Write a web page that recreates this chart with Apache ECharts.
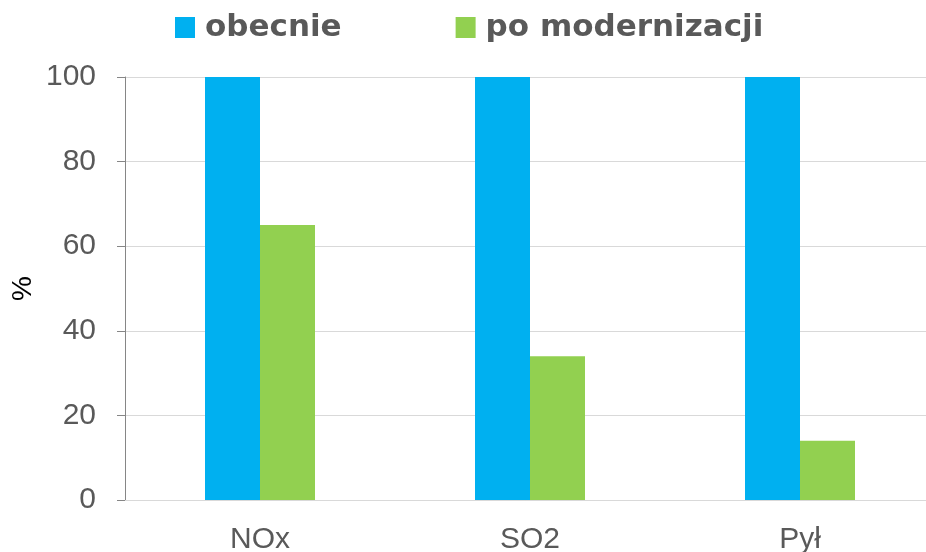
<!DOCTYPE html>
<html><head><meta charset="utf-8">
<script src="https://cdn.jsdelivr.net/npm/echarts@6/dist/echarts.min.js"></script>
<style>html,body{margin:0;padding:0;background:#fff}#c{width:926px;height:552px}</style>
</head><body><div id="c"></div>
<script>
const categories = ['NOx', 'SO2', 'Pył'];
const obecnie = [100, 100, 100];
const poModernizacji = [65, 34, 14];
const yTicks = { min: 0, max: 100, interval: 20 };

const chart = echarts.init(document.getElementById('c'), null, { renderer: 'canvas' });
const axisFont = 'Liberation Sans';
const legendFont = 'DejaVu Sans';
chart.setOption({
  animation: false,
  textStyle: { fontFamily: axisFont },
  legend: {
    left: 170, top: 7, padding: 5,
    itemWidth: 20, itemHeight: 21, itemGap: 114,
    icon: 'rect',
    textStyle: { fontFamily: legendFont, fontSize: 31, lineHeight: 31, fontWeight: 'bold', color: '#595959', padding: [0, 0, 0, 5] },
    data: ['obecnie', 'po modernizacji']
  },
  grid: { left: 125, top: 77, width: 810, height: 423, outerBoundsMode: 'none', containLabel: false },
  xAxis: {
    type: 'category', data: categories,
    axisLine: { lineStyle: { color: '#d9d9d9', width: 1 } },
    axisTick: { show: false },
    axisLabel: { fontFamily: axisFont, fontSize: 30, color: '#595959', margin: 25 }
  },
  yAxis: {
    type: 'value', min: yTicks.min, max: yTicks.max, interval: yTicks.interval,
    name: '%', nameLocation: 'middle', nameGap: 88, nameRotate: 90, nameMoveOverlap: false,
    nameTextStyle: { fontFamily: axisFont, fontSize: 28, color: '#000' },
    axisLine: { show: true, lineStyle: { color: '#868686', width: 1 } },
    axisTick: { show: true, length: 8, lineStyle: { color: '#868686' } },
    splitLine: { lineStyle: { color: '#d9d9d9', width: 1 } },
    axisLabel: { fontFamily: axisFont, fontSize: 30, color: '#595959', margin: 29 }
  },
  series: [
    { name: 'obecnie', type: 'bar', data: obecnie, barWidth: 55, barGap: '0%', itemStyle: { color: '#00B0F0' } },
    { name: 'po modernizacji', type: 'bar', data: poModernizacji, barWidth: 55, itemStyle: { color: '#92D050' } }
  ]
});
</script></body></html>
